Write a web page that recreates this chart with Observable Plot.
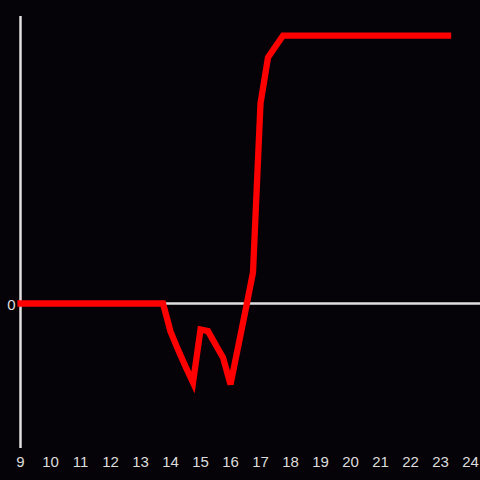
<!DOCTYPE html>
<html>
<head>
<meta charset="utf-8">
<script src="https://cdn.jsdelivr.net/npm/d3@7"></script>
<script src="https://cdn.jsdelivr.net/npm/@observablehq/plot@0.6"></script>
<style>
  html, body { margin: 0; padding: 0; background: #050307; }
  #chart { width: 480px; height: 480px; }
</style>
</head>
<body>
<div id="chart"></div>
<script>
// Hour of day (decimal) and value
const hours  = [9, 13.75, 14, 14.25, 14.5, 14.75, 15, 15.25, 15.5, 15.75, 16, 16.25, 16.5, 16.75, 17, 17.25, 17.5, 17.75, 23.25];
const values = [0, 0, -10.4, -17.2, -23.5, -29.5, -9.7, -10.3, -15.3, -20.1, -30.2, -16.4, -2.6, 11.6, 74.6, 91.8, 95.9, 100, 100];
const xTicks = [9, 10, 11, 12, 13, 14, 15, 16, 17, 18, 19, 20, 21, 22, 23, 24];
const yTicks = [0];

const data = hours.map((h, i) => ({hour: h, value: values[i]}));

const chart = Plot.plot({
  width: 480,
  height: 480,
  marginTop: 16,
  marginBottom: 32,
  marginLeft: 20,
  marginRight: 0,
  style: {background: "#050307", color: "#dddddd", fontFamily: "Liberation Sans, Arial, sans-serif", fontSize: "15px"},
  x: {domain: [9, 24.3333], label: null},
  y: {domain: [-54.1, 107.1], label: null},
  marks: [
    Plot.axisX(xTicks, {tickSize: 0, tickPadding: 8, tickFormat: d => String(d), label: null}),
    Plot.axisY(yTicks, {tickSize: 0, tickPadding: 5, dy: 1.5, label: null}),
    Plot.ruleX([9], {stroke: "#e0e0e0", strokeWidth: 2.5}),
    Plot.ruleY([0], {stroke: "#e0e0e0", strokeWidth: 2.5}),
    Plot.line(data, {x: "hour", y: "value", stroke: "#ff0000", strokeWidth: 6.3, strokeLinecap: "square", strokeLinejoin: "miter", strokeMiterlimit: 4})
  ]
});
document.getElementById("chart").appendChild(chart);
</script>
</body>
</html>
